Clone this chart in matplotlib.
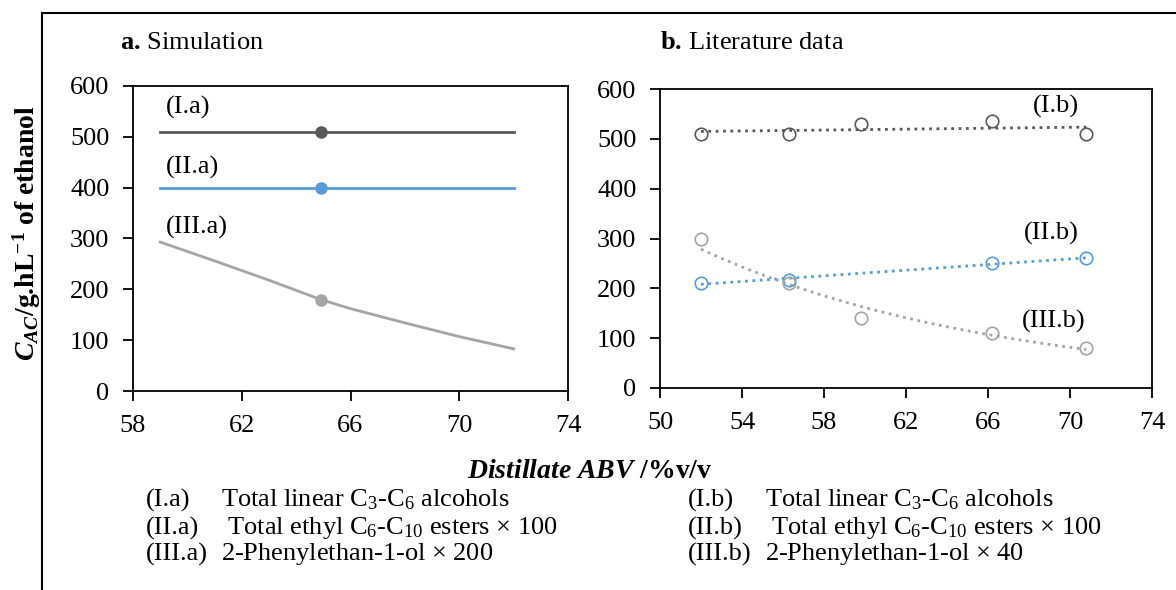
import numpy as np
import matplotlib.pyplot as plt
from matplotlib.lines import Line2D

plt.rcParams['font.family'] = ['Liberation Serif', 'DejaVu Serif']
plt.rcParams['mathtext.fontset'] = 'custom'
plt.rcParams['mathtext.rm'] = 'Liberation Serif'
plt.rcParams['mathtext.it'] = 'Liberation Serif:italic'
plt.rcParams['mathtext.bf'] = 'Liberation Serif:bold'
plt.rcParams['mathtext.bfit'] = 'Liberation Serif:italic:bold'

# Panel a: simulation
sim_abv = [59.0, 61.0, 63.0, 64.9, 66.0, 68.0, 70.0, 72.0]
sim_alcohols = [510, 510, 510, 510, 510, 510, 510, 510]
sim_esters = [400, 400, 400, 400, 400, 400, 400, 400]
sim_phenyl = [293, 256, 218, 180, 162, 134, 107, 83]
sim_marker_abv = 64.9

# Panel b: literature data
lit_abv = [52.0, 56.3, 59.8, 66.2, 70.8]
lit_alcohols = [510, 510, 530, 535, 510]
lit_esters_abv = [52.0, 56.3, 66.2, 70.8]
lit_esters = [210, 217, 251, 260]
lit_phenyl = [300, 210, 140, 110, 80]

DARK = '#595959'
BLUE = '#5B9BD5'
LIGHT = '#A5A5A5'
FS = 19

fig = plt.figure(figsize=(11.76, 5.90), dpi=100)

# page frame
fig.add_artist(Line2D([42 / 1176, 1.0], [1 - 13 / 590] * 2, color='black', lw=1.5))
fig.add_artist(Line2D([42 / 1176] * 2, [0.0, 1 - 13 / 590], color='black', lw=1.5))

ax_a = fig.add_axes([133 / 1176, 1 - 391 / 590, 435 / 1176, 305 / 590])
ax_b = fig.add_axes([660 / 1176, 1 - 388 / 590, 492 / 1176, 299 / 590])

# simulation curves
ax_a.plot(sim_abv, sim_alcohols, color=DARK, lw=2)
ax_a.plot(sim_abv, sim_esters, color=BLUE, lw=2)
ax_a.plot(sim_abv, sim_phenyl, color=LIGHT, lw=2)
idx = sim_abv.index(sim_marker_abv)
ax_a.plot(sim_marker_abv, sim_alcohols[idx], 'o', color=DARK, ms=8)
ax_a.plot(sim_marker_abv, sim_esters[idx], 'o', color=BLUE, ms=8)
ax_a.plot(sim_marker_abv, sim_phenyl[idx], 'o', color=LIGHT, ms=8)
ax_a.text(59.2, 557, '(I.a)', fontsize=FS, va='center')
ax_a.text(59.2, 440, '(II.a)', fontsize=FS, va='center')
ax_a.text(59.2, 322, '(III.a)', fontsize=FS, va='center')
ax_a.set_xlim(58, 74)
ax_a.set_xticks([58, 62, 66, 70, 74])

# literature points with trend lines
lx = np.array(lit_abv)
ex = np.array(lit_esters_abv)
fit_a = np.polyfit(lx, lit_alcohols, 1)
fit_e = np.polyfit(ex, lit_esters, 1)
fit_p = np.polyfit(lx, np.log(lit_phenyl), 1)
xs = np.linspace(lx.min(), lx.max(), 100)
ax_b.plot(xs, np.polyval(fit_a, xs), ':', color=DARK, lw=2)
ax_b.plot(xs, np.polyval(fit_e, xs), ':', color=BLUE, lw=2)
ax_b.plot(xs, np.exp(np.polyval(fit_p, xs)), ':', color=LIGHT, lw=2)
ax_b.plot(lit_abv, lit_alcohols, 'o', mfc='none', mec=DARK, ms=9, mew=1.2)
ax_b.plot(lit_esters_abv, lit_esters, 'o', mfc='none', mec=BLUE, ms=9, mew=1.2)
ax_b.plot(lit_abv, lit_phenyl, 'o', mfc='none', mec=LIGHT, ms=9, mew=1.2)
ax_b.text(69.3, 564, '(I.b)', fontsize=FS, va='center', ha='center')
ax_b.text(69.1, 311, '(II.b)', fontsize=FS, va='center', ha='center')
ax_b.text(69.2, 134, '(III.b)', fontsize=FS, va='center', ha='center')
ax_b.set_xlim(50, 74)
ax_b.set_xticks([50, 54, 58, 62, 66, 70, 74])

for ax in (ax_a, ax_b):
    ax.set_ylim(0, 600)
    ax.set_yticks(range(0, 601, 100))
    ax.tick_params(direction='out', length=7, width=1.3, labelsize=FS)
    ax.tick_params(axis='y', pad=10)
    ax.tick_params(axis='x', pad=10)
    for s in ax.spines.values():
        s.set_linewidth(1.3)

fig.text(120 / 1176, 1 - 43 / 590, r'$\mathbf{a.}\,$Simulation', fontsize=FS, va='center')
fig.text(660 / 1176, 1 - 43 / 590, r'$\mathbf{b.}\,$Literature data', fontsize=FS, va='center')

fig.text(27 / 1176, 1 - 233 / 590,
         r'$\mathbfit{C}_{\mathbfit{AC}}$/g.hL$^{\mathbf{-1}}$ of ethanol',
         rotation=90, fontsize=FS + 1, fontweight='bold', va='center', ha='center')
fig.text(590 / 1176, 1 - 472 / 590, r'$\mathbfit{Distillate\ ABV}$ /%v/v',
         fontsize=FS + 1, fontweight='bold', va='center', ha='center')

legend_a = [('(I.a)', r'Total linear C$_3$-C$_6$ alcohols'),
            ('(II.a)', r' Total ethyl C$_6$-C$_{10}$ esters $\times$ 100'),
            ('(III.a)', r'2-Phenylethan-1-ol $\times$ 200')]
legend_b = [('(I.b)', r'Total linear C$_3$-C$_6$ alcohols'),
            ('(II.b)', r' Total ethyl C$_6$-C$_{10}$ esters $\times$ 100'),
            ('(III.b)', r'2-Phenylethan-1-ol $\times$ 40')]
rows = [500, 528, 554]
for (tag, desc), y in zip(legend_a, rows):
    fig.text(146 / 1176, 1 - y / 590, tag, fontsize=FS, va='center')
    fig.text(221 / 1176, 1 - y / 590, desc, fontsize=FS, va='center')
for (tag, desc), y in zip(legend_b, rows):
    fig.text(688 / 1176, 1 - y / 590, tag, fontsize=FS, va='center')
    fig.text(765 / 1176, 1 - y / 590, desc, fontsize=FS, va='center')

fig.savefig('out.png', dpi=100)
